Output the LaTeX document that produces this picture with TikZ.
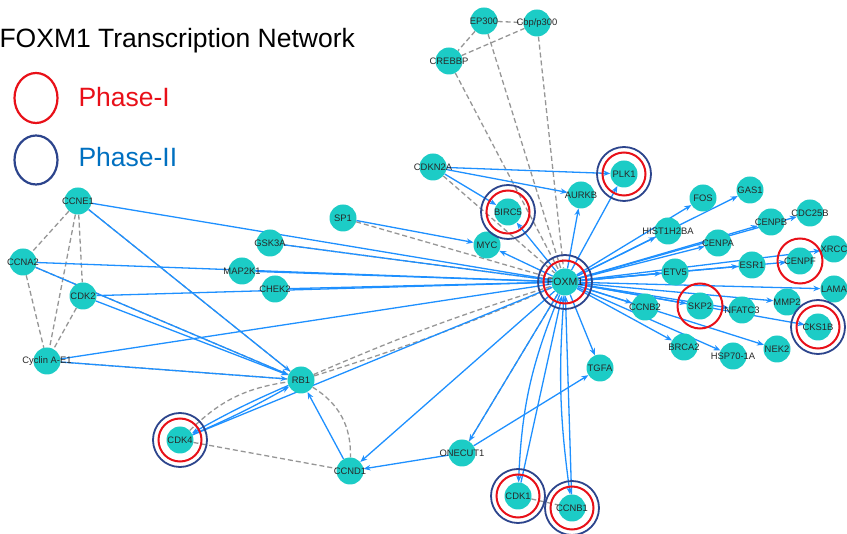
\documentclass[tikz,border=0pt]{standalone}
\usepackage{fontspec}
\setmainfont{Liberation Sans}
\usepackage{xcolor}
\usepackage{tikz}
\usetikzlibrary{shapes,arrows.meta,positioning,backgrounds,shapes.geometric}
\definecolor{geneFill}{RGB}{28,204,198}
\definecolor{linkBlue}{RGB}{30,144,255}
\definecolor{linkGray}{RGB}{150,150,150}
\definecolor{phaseRed}{RGB}{232,16,24}
\definecolor{phaseNavy}{RGB}{44,68,140}
\definecolor{phaseText}{RGB}{0,112,192}
\definecolor{labelGray}{RGB}{40,40,40}

\begin{document}
\begin{tikzpicture}[x=1pt, y=-1pt,
			gene/.style={circle, fill=geneFill, minimum size=27pt, inner sep=0pt,
				label={[font=\fontsize{9.4}{10}\selectfont, text=labelGray]center:#1}},
			phaseI ring/.style={circle, draw=phaseRed, line width=2pt, minimum size=43pt, inner sep=0pt},
			phaseII ring/.style={circle, draw=phaseNavy, line width=1.8pt, minimum size=54pt, inner sep=0pt},
			arrow/.style={-{Stealth[length=7pt,width=5.5pt]}, line width=1.3pt, color=linkBlue},
			link/.style={line width=1.3pt, color=linkBlue},
			dashed link/.style={line width=1.3pt, color=linkGray, dash pattern=on 5pt off 3pt}
			]
			\useasboundingbox (0,0) rectangle (847,534);
			
			% legend
			\node[anchor=base west, font=\fontsize{26.5}{30}\selectfont] (title) at (-4,48) {FOXM1 Transcription Network};
			\node[ellipse, draw=phaseRed, line width=2.2pt, minimum width=43pt, minimum height=50pt, inner sep=0pt] (keyI) at (36,98) {};
			\node[ellipse, draw=phaseNavy, line width=2.2pt, minimum width=43pt, minimum height=49pt, inner sep=0pt] (keyII) at (36,160) {};
			\node[anchor=base west, text=phaseRed, font=\fontsize{26.5}{30}\selectfont] (txtI) at (75,107) {Phase-I};
			\node[anchor=base west, text=phaseText, font=\fontsize{26.5}{30}\selectfont] (txtII) at (75,167) {Phase-II};
			
			% genes
			\node[gene=EP300] (ep300) at (484,21) {};
			\node[gene=Cbp/p300] (cbp) at (537,23) {};
			\node[gene=CREBBP] (crebbp) at (449,61) {};
			\node[gene=CDKN2A] (cdkn2a) at (433,167) {};
			\node[gene=SP1] (sp1) at (343,218) {};
			\node[gene=GSK3A] (gsk3a) at (270,243) {};
			\node[gene=MAP2K1] (map2k1) at (242,271) {};
			\node[gene=CHEK2] (chek2) at (275,289) {};
			\node[gene=BIRC5] (birc5) at (508,212) {};
			\node[gene=MYC] (myc) at (487,245) {};
			\node[gene=AURKB] (aurkb) at (581,195) {};
			\node[gene=PLK1] (plk1) at (624,174) {};
			\node[gene=\fontsize{10.5}{11}\selectfont FOXM1] (foxm1) at (565,282) {};
			\node[gene=CCNE1] (ccne1) at (78,201) {};
			\node[gene=CCNA2] (ccna2) at (23,262) {};
			\node[gene=CDK2] (cdk2) at (83,296) {};
			\node[gene=Cyclin A-E1] (cyclin) at (47,361) {};
			\node[gene=RB1] (rb1) at (301,380) {};
			\node[gene=CDK4] (cdk4) at (180,440) {};
			\node[gene=CCND1] (ccnd1) at (350,471) {};
			\node[gene=ONECUT1] (onecut1) at (462,453) {};
			\node[gene=TGFA] (tgfa) at (600,368) {};
			\node[gene=CDK1] (cdk1) at (518,496) {};
			\node[gene=CCNB1] (ccnb1) at (572,508) {};
			\node[gene=HIST1H2BA] (hist) at (668,231) {};
			\node[gene=FOS] (fos) at (703,198) {};
			\node[gene=GAS1] (gas1) at (750,190) {};
			\node[gene=CENPB] (cenpb) at (771,222) {};
			\node[gene=CDC25B] (cdc25b) at (810,213) {};
			\node[gene=CENPA] (cenpa) at (718,243) {};
			\node[gene=ETV5] (etv5) at (675,272) {};
			\node[gene=ESR1] (esr1) at (752,265) {};
			\node[gene=CENPF] (cenpf) at (800,261) {};
			\node[gene=XRCC] (xrcc) at (834,249) {};
			\node[gene=LAMA] (lama) at (834,289) {};
			\node[gene=CCNB2] (ccnb2) at (645,307) {};
			\node[gene=SKP2] (skp2) at (700,306) {};
			\node[gene=NFATC3] (nfatc3) at (742,310) {};
			\node[gene=MMP2] (mmp2) at (787,302) {};
			\node[gene=CKS1B] (cks1b) at (818,327) {};
			\node[gene=BRCA2] (brca2) at (684,347) {};
			\node[gene=HSP70-1A] (hsp) at (733,356) {};
			\node[gene=NEK2] (nek2) at (777,349) {};
			
			% phase rings
			\node[phaseI ring] (foxm1I) at (foxm1) {};
			\node[phaseII ring] (foxm1II) at (foxm1) {};
			\node[phaseI ring] (birc5I) at (birc5) {};
			\node[phaseII ring] (birc5II) at (birc5) {};
			\node[phaseI ring] (plk1I) at (plk1) {};
			\node[phaseII ring] (plk1II) at (plk1) {};
			\node[phaseI ring] (cdk4I) at (cdk4) {};
			\node[phaseII ring] (cdk4II) at (cdk4) {};
			\node[phaseI ring] (cdk1I) at (cdk1) {};
			\node[phaseII ring] (cdk1II) at (cdk1) {};
			\node[phaseI ring] (ccnb1I) at (ccnb1) {};
			\node[phaseII ring] (ccnb1II) at (ccnb1) {};
			\node[phaseI ring] (cks1bI) at (cks1b) {};
			\node[phaseII ring] (cks1bII) at (cks1b) {};
			\node[phaseI ring, minimum size=45pt] (skp2I) at (skp2) {};
			\node[phaseI ring, minimum size=45pt] (cenpfI) at (cenpf) {};
			
			\begin{scope}[on background layer]
			% gray dashed
			\draw[dashed link] (ep300) -- (cbp);
			\draw[dashed link] (ep300) -- (crebbp);
			\draw[dashed link] (crebbp) -- (cbp);
			\draw[dashed link] (crebbp) -- (foxm1);
			\draw[dashed link] (ep300) -- (foxm1);
			\draw[dashed link] (cbp) -- (foxm1);
			\draw[dashed link] (cdkn2a) -- (foxm1);
			\draw[dashed link] (sp1) -- (foxm1);
			\draw[dashed link] (gsk3a) -- (foxm1);
			\draw[dashed link] (ccne1) -- (ccna2);
			\draw[dashed link] (ccne1) -- (cdk2);
			\draw[dashed link] (ccne1) -- (cyclin);
			\draw[dashed link] (ccna2) -- (cyclin);
			\draw[dashed link] (cdk2) -- (cyclin);
			\draw[dashed link] (ccne1) -- (rb1);
			\draw[dashed link] (ccna2) -- (rb1);
			\draw[dashed link] (cyclin) -- (rb1);
			\draw[dashed link] (rb1) to[bend left=3] (foxm1);
			\draw[dashed link] (rb1) to[bend right=3] (foxm1);
			\draw[dashed link] (cdk4) to[bend left=18] (rb1);
			\draw[dashed link] (cdk4) -- (ccnd1);
			\draw[dashed link] (rb1) to[bend left=30] (ccnd1);
			\draw[dashed link] (onecut1) -- (foxm1);
			\draw[dashed link] (cdk1) -- (ccnb1);
			
			% into FOXM1
			\draw[link] (ccne1) -- (foxm1);
			\draw[link] (ccna2) -- (foxm1);
			\draw[link] (cdk2) -- (foxm1);
			\draw[link] (cyclin) -- (foxm1);
			\draw[link] (gsk3a) -- (foxm1);
			\draw[link] (map2k1) -- (foxm1);
			\draw[link] (chek2) -- (foxm1);
			\draw[link] (cdk4) -- (foxm1);
			
			% RB1 side
			\draw[arrow] (ccne1) -- (rb1);
			\draw[arrow] (ccna2) -- (rb1);
			\draw[arrow] (cdk2) -- (rb1);
			\draw[arrow] (cyclin) -- (rb1);
			\draw[arrow] (cdk4) to[bend right=3] (rb1);
			\draw[arrow] (rb1) to[bend right=3] (cdk4);
			\draw[arrow] (ccnd1) -- (rb1);
			\draw[arrow] (onecut1) -- (ccnd1);
			\draw[arrow] (onecut1) -- (tgfa);
			
			% upper regulators
			\draw[arrow] (cdkn2a) -- (plk1);
			\draw[arrow] (cdkn2a) -- (aurkb);
			\draw[arrow] (cdkn2a) -- (birc5);
			\draw[arrow] (sp1) -- (myc);
			
			% FOXM1 targets
			\foreach \t in {plk1,aurkb,birc5,myc,hist,fos,gas1,cenpa,cenpb,cdc25b,etv5,esr1,cenpf,xrcc,lama,ccnb2,skp2,nfatc3,mmp2,cks1b,brca2,hsp,nek2,tgfa,onecut1,ccnd1}
				\draw[arrow] (foxm1) -- (\t);
			\draw[arrow] (foxm1) to[bend right=10] (cdk1);
			\draw[arrow] (cdk1) -- (foxm1);
			\draw[arrow] (foxm1) to[bend right=6] (ccnb1);
			\draw[arrow] (ccnb1) -- (foxm1);
			\end{scope}
		\end{tikzpicture}
\end{document}
